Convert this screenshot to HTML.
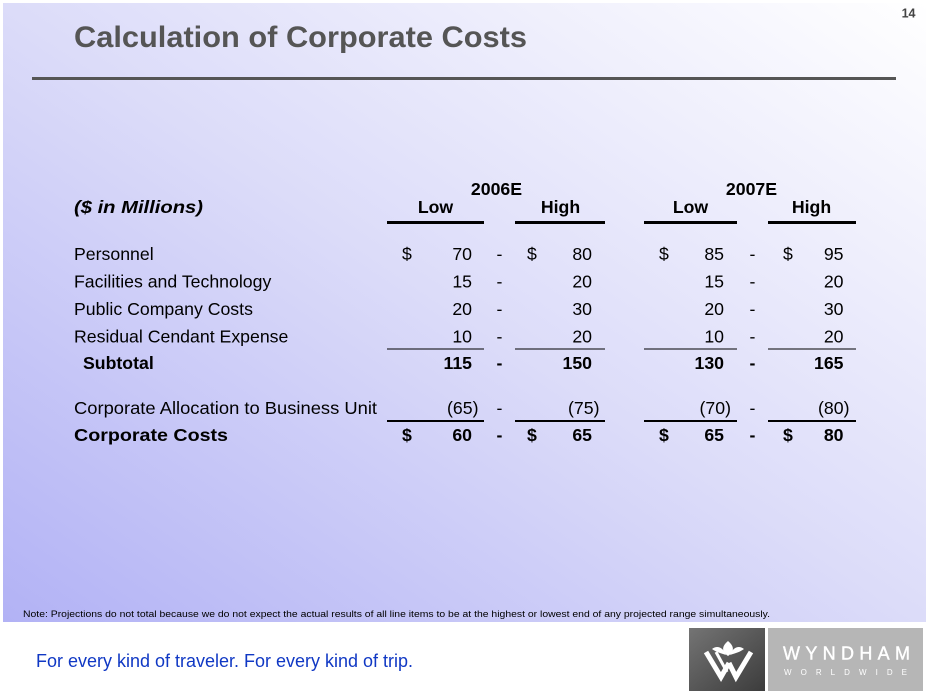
<!DOCTYPE html>
<html>
<head>
<meta charset="utf-8">
<style>
  html,body{margin:0;padding:0;background:#fff;}
  svg{display:block;}
  text{font-family:"Liberation Sans",Arial,sans-serif;}
</style>
</head>
<body>
<svg width="926" height="694" viewBox="0 0 926 694" xmlns="http://www.w3.org/2000/svg">
  <defs>
    <linearGradient id="bg" x1="0" y1="1" x2="1" y2="0">
      <stop offset="0" stop-color="#b2b2f5"/>
      <stop offset="0.5" stop-color="#dcdcf9"/>
      <stop offset="1" stop-color="#ffffff"/>
    </linearGradient>
    <linearGradient id="dk" x1="0" y1="0" x2="1" y2="1">
      <stop offset="0" stop-color="#747474"/>
      <stop offset="1" stop-color="#3c3c3c"/>
    </linearGradient>
  </defs>
  <rect x="0" y="0" width="926" height="694" fill="#fff"/>
  <rect x="3" y="3" width="923" height="619" fill="url(#bg)"/>

  <!-- page number -->
  <text x="915.5" y="17.5" font-size="12.5" font-weight="bold" fill="#444" text-anchor="end">14</text>

  <!-- title -->
  <text x="74" y="47" font-size="30" font-weight="bold" fill="#555" textLength="453" lengthAdjust="spacingAndGlyphs">Calculation of Corporate Costs</text>
  <rect x="32" y="77" width="864" height="3" fill="#555"/>

  <g font-size="17.7" fill="#000">
    <!-- headers -->
    <g font-weight="bold" text-anchor="middle">
      <text x="496.5" y="195">2006E</text>
      <text x="751.5" y="195">2007E</text>
      <text x="435.5" y="213">Low</text>
      <text x="560.5" y="213">High</text>
      <text x="690.5" y="213">Low</text>
      <text x="811.5" y="213">High</text>
    </g>
    <text x="74" y="213" font-weight="bold" font-style="italic" textLength="129" lengthAdjust="spacingAndGlyphs">($ in Millions)</text>

    <rect x="387" y="221" width="97" height="3"/>
    <rect x="515" y="221" width="90" height="3"/>
    <rect x="644" y="221" width="93" height="3"/>
    <rect x="768" y="221" width="88" height="3"/>

    <!-- labels -->
    <text x="74" y="260">Personnel</text>
    <text x="74" y="287.5">Facilities and Technology</text>
    <text x="74" y="315">Public Company Costs</text>
    <text x="74" y="342.5">Residual Cendant Expense</text>
    <text x="83" y="369" font-weight="bold">Subtotal</text>
    <text x="74" y="414" textLength="303" lengthAdjust="spacingAndGlyphs">Corporate Allocation to Business Unit</text>
    <text x="74" y="441" font-weight="bold" textLength="154" lengthAdjust="spacingAndGlyphs">Corporate Costs</text>

    <!-- dollar signs -->
    <text x="402" y="260">$</text>
    <text x="527" y="260">$</text>
    <text x="659" y="260">$</text>
    <text x="783" y="260">$</text>
    <g font-weight="bold">
      <text x="402" y="441">$</text>
      <text x="527" y="441">$</text>
      <text x="659" y="441">$</text>
      <text x="783" y="441">$</text>
    </g>

    <!-- numbers -->
    <g text-anchor="end">
      <text x="472" y="260">70</text><text x="592" y="260">80</text><text x="724" y="260">85</text><text x="843.5" y="260">95</text>
      <text x="472" y="287.5">15</text><text x="592" y="287.5">20</text><text x="724" y="287.5">15</text><text x="843.5" y="287.5">20</text>
      <text x="472" y="315">20</text><text x="592" y="315">30</text><text x="724" y="315">20</text><text x="843.5" y="315">30</text>
      <text x="472" y="342.5">10</text><text x="592" y="342.5">20</text><text x="724" y="342.5">10</text><text x="843.5" y="342.5">20</text>
      <g font-weight="bold">
        <text x="472" y="369">115</text><text x="592" y="369">150</text><text x="724" y="369">130</text><text x="843.5" y="369">165</text>
      </g>
      <text x="478.5" y="414">(65)</text><text x="599.5" y="414">(75)</text><text x="731" y="414">(70)</text><text x="849.5" y="414">(80)</text>
      <g font-weight="bold">
        <text x="472" y="441">60</text><text x="592" y="441">65</text><text x="724" y="441">65</text><text x="843.5" y="441">80</text>
      </g>
    </g>

    <!-- dashes -->
    <g text-anchor="middle">
      <text x="499.5" y="260">-</text><text x="752.5" y="260">-</text>
      <text x="499.5" y="287.5">-</text><text x="752.5" y="287.5">-</text>
      <text x="499.5" y="315">-</text><text x="752.5" y="315">-</text>
      <text x="499.5" y="342.5">-</text><text x="752.5" y="342.5">-</text>
      <text x="499.5" y="369" font-weight="bold">-</text><text x="752.5" y="369" font-weight="bold">-</text>
      <text x="499.5" y="414">-</text><text x="752.5" y="414">-</text>
      <text x="499.5" y="441" font-weight="bold">-</text><text x="752.5" y="441" font-weight="bold">-</text>
    </g>

    <!-- rule lines -->
    <rect x="387" y="348.5" width="97" height="1"/>
    <rect x="515" y="348.5" width="90" height="1"/>
    <rect x="644" y="348.5" width="93" height="1"/>
    <rect x="768" y="348.5" width="88" height="1"/>

    <rect x="387" y="420" width="97" height="2"/>
    <rect x="515" y="420" width="90" height="2"/>
    <rect x="644" y="420" width="93" height="2"/>
    <rect x="768" y="420" width="88" height="2"/>
  </g>

  <!-- note -->
  <text x="23" y="617" font-size="9" fill="#000" textLength="747" lengthAdjust="spacingAndGlyphs">Note: Projections do not total because we do not expect the actual results of all line items to be at the highest or lowest end of any projected range simultaneously.</text>

  <!-- tagline -->
  <text x="36" y="667" font-size="18" fill="#1038c4" textLength="377" lengthAdjust="spacingAndGlyphs">For every kind of traveler. For every kind of trip.</text>

  <!-- logo -->
  <rect x="689" y="628" width="76" height="63" fill="url(#dk)"/>
  <rect x="768" y="628" width="155" height="63" fill="#b6b6b6"/>
  <g fill="none" stroke="#fff" stroke-linejoin="miter" stroke-linecap="butt">
    <polyline points="706,652 721,677 729,663" stroke-width="5"/>
    <polyline points="716,652 727,672" stroke-width="3"/>
    <polyline points="729,663 736,677 751,652" stroke-width="5"/>
  </g>
  <g fill="#fff">
    <path d="M728,641 C722,646 721,651 728,656 C735,651 734,646 728,641 Z"/>
    <path d="M712,649 C717,645 723,647 726,655 C720,653 716,652 712,649 Z"/>
    <path d="M744,649 C739,645 733,647 730,655 C736,653 740,652 744,649 Z"/>
  </g>
  <text x="846.5" y="659.5" font-size="18" fill="#fff" stroke="#fff" stroke-width="0.4" text-anchor="middle" textLength="127" lengthAdjust="spacing">WYNDHAM</text>
  <text x="845.5" y="675" font-size="8" fill="#fff" text-anchor="middle" textLength="123" lengthAdjust="spacing">WORLDWIDE</text>
</svg>
</body>
</html>
